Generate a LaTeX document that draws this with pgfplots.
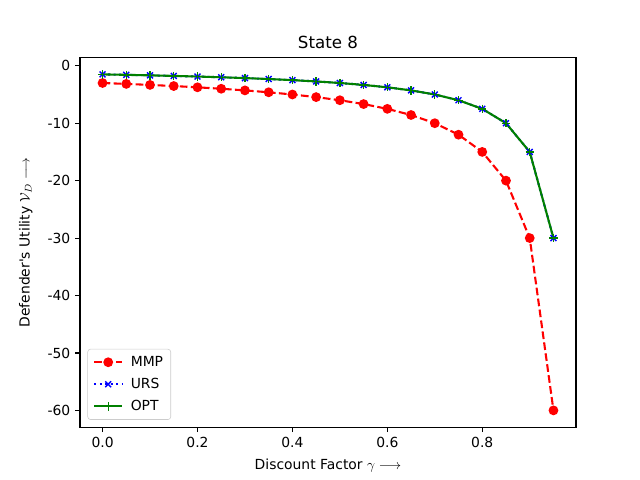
\documentclass[border=0pt]{standalone}
\usepackage{fontspec}
\setmainfont{DejaVu Sans}
\usepackage{pgfplots}
\pgfplotsset{compat=1.18}
\usepackage{pgfplotstable}
\definecolor{mgreen}{rgb}{0,0.5,0}
\pgfplotstableread{
g mmp urs opt
0.00 -3.000 -1.500 -1.500
0.05 -3.158 -1.579 -1.579
0.10 -3.333 -1.667 -1.667
0.15 -3.529 -1.765 -1.765
0.20 -3.750 -1.875 -1.875
0.25 -4.000 -2.000 -2.000
0.30 -4.286 -2.143 -2.143
0.35 -4.615 -2.308 -2.308
0.40 -5.000 -2.500 -2.500
0.45 -5.455 -2.727 -2.727
0.50 -6.000 -3.000 -3.000
0.55 -6.667 -3.333 -3.333
0.60 -7.500 -3.750 -3.750
0.65 -8.571 -4.286 -4.286
0.70 -10.000 -5.000 -5.000
0.75 -12.000 -6.000 -6.000
0.80 -15.000 -7.500 -7.500
0.85 -20.000 -10.000 -10.000
0.90 -30.000 -15.000 -15.000
0.95 -60.000 -30.000 -30.000
}\datatable
\begin{document}
\begin{tikzpicture}
\begin{axis}[
  name=ax,
  scale only axis,
  width=357.12pt, height=266.11pt,
  xmin=-0.0475, xmax=0.9975,
  ymin=-62.925, ymax=1.425,
  xtick={0,0.2,0.4,0.6,0.8},
  ytick={-60,-50,-40,-30,-20,-10,0},
  xticklabel style={/pgf/number format/.cd,fixed,fixed zerofill,precision=1},
  /pgf/number format/assume math mode=true,
  tick align=outside,
  tick pos=lower,
  major tick length=3.5pt,
  tick style={black, line width=0.8pt},
  axis line style={line width=0.8pt},
  title={\fontsize{12}{14}\selectfont State 8},
  title style={yshift=-3pt},
  xlabel={Discount Factor $\gamma \longrightarrow$},
  ylabel={Defender\textquotesingle s Utility $\mathcal{V}_D \longrightarrow$},
  xlabel style={yshift=-1.5pt},
  ylabel style={yshift=4pt},
  legend style={draw=black!20, rounded corners=2pt, at={(0.015,0.02)}, anchor=south west,
    font=\fontsize{10}{12}\selectfont, row sep=4pt, inner xsep=4pt, inner ysep=3.5pt,
    nodes={inner sep=1.5pt}},
  legend cell align=left,
  legend image code/.code={\draw[mark repeat=2,mark phase=2] plot coordinates {(0pt,0pt) (10pt,0pt) (20pt,0pt)}; \path (24pt,0pt);},
]
\addplot[red, line width=1.5pt, dash pattern=on 5.55pt off 2.4pt, mark=*, mark size=3pt, mark options={solid, line width=1pt}] table[x=g,y=mmp]{\datatable};
\addlegendentry{MMP}
\addplot[blue, line width=1.5pt, dash pattern=on 1.5pt off 2.475pt, mark=x, mark size=3pt, mark options={solid, line width=1pt}] table[x=g,y=urs]{\datatable};
\addlegendentry{URS}
\addplot[mgreen, line width=1.5pt, mark=+, mark size=3pt, mark options={solid, line width=1pt}] table[x=g,y=opt]{\datatable};
\addlegendentry{OPT}
\end{axis}
\path ([xshift=-57.6pt,yshift=-38.02pt]ax.south west) rectangle ([xshift=46.08pt,yshift=41.47pt]ax.north east);
\end{tikzpicture}
\end{document}
